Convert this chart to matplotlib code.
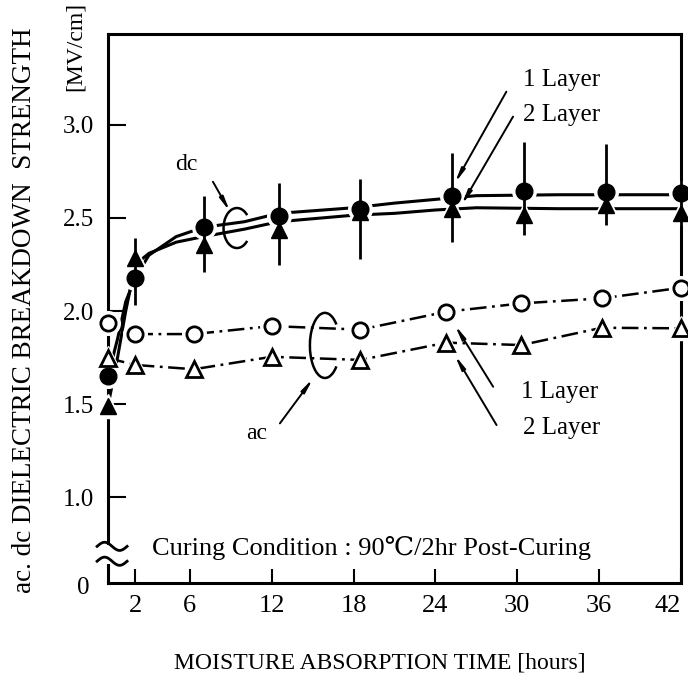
import numpy as np
import matplotlib
matplotlib.use("Agg")
import matplotlib.pyplot as plt
from matplotlib.patches import Arc, Rectangle

plt.rcParams['font.family'] = ['Liberation Serif', 'DejaVu Serif', 'Noto Sans CJK JP']
plt.rcParams['lines.scale_dashes'] = False

# ---------------- data ----------------
x_ticks = [2, 6, 12, 18, 24, 30, 36, 42]
x_tick_labels = ['2', '6', '12', '18', '24', '30', '36', '42']
y_ticks = [1.0, 1.5, 2.0, 2.5, 3.0]
y_tick_labels = ['1.0', '1.5', '2.0', '2.5', '3.0']

# dc measurements
dc_x = [0, 2, 7, 12.5, 18.5, 25.2, 30.5, 36.5, 42]
dc_1layer = [1.65, 2.18, 2.45, 2.51, 2.55, 2.62, 2.645, 2.64, 2.635]
dc_2layer = [1.49, 2.285, 2.355, 2.435, 2.53, 2.55, 2.515, 2.57, 2.525]
dc_err_x = [2, 7, 12.5, 18.5, 25.2, 30.5, 36.5, 42]
dc_err_lo = [2.03, 2.21, 2.25, 2.28, 2.37, 2.41, 2.46, 2.43]
dc_err_hi = [2.39, 2.62, 2.69, 2.71, 2.85, 2.91, 2.90, 2.92]

# dc fitted curves (as drawn)
dc_fit_x = [0, 0.7, 1.3, 2, 3, 5, 7, 10, 12.5, 18, 21, 24, 27, 33, 39, 42]
dc_fit_1layer = [1.65, 1.85, 2.05, 2.18, 2.30, 2.40, 2.45, 2.48, 2.525, 2.555, 2.58, 2.60, 2.62, 2.625, 2.625, 2.625]
dc_fit_2layer = [1.49, 1.75, 2.00, 2.25, 2.31, 2.37, 2.40, 2.44, 2.48, 2.515, 2.525, 2.543, 2.555, 2.55, 2.55, 2.55]

# ac measurements
ac_x = [0, 2, 6.3, 12, 18.5, 24.8, 30.3, 36.2, 42]
ac_1layer = [1.937, 1.876, 1.876, 1.919, 1.90, 1.996, 2.041, 2.068, 2.125]
ac_2layer = [1.747, 1.71, 1.687, 1.754, 1.737, 1.83, 1.817, 1.91, 1.907]

# ---------------- figure ----------------
fig = plt.figure(figsize=(6.88, 6.85), dpi=100)
ax = fig.add_axes([108/688, (685-583)/685, (681-108)/688, (583-34)/685])
ax.set_xlim(0, 42)
ax.set_ylim(0.538, 3.489)

for s in ax.spines.values():
    s.set_linewidth(2.2)

ax.set_xticks(x_ticks)
ax.set_xticklabels(x_tick_labels)
ax.set_yticks(y_ticks)
ax.set_yticklabels(y_tick_labels)
ax.tick_params(axis='x', direction='in', length=10, width=1.5, pad=9, labelsize=19)
ax.tick_params(axis='y', direction='in', length=13, width=1.5, pad=10, labelsize=18)
ax.get_xticklabels()[-1].set_horizontalalignment('right')

# dc fitted curves
ax.plot(dc_fit_x, dc_fit_1layer, color='black', lw=2.2, zorder=2, solid_capstyle='butt')
ax.plot(dc_fit_x, dc_fit_2layer, color='black', lw=2.2, zorder=2, solid_capstyle='butt')

# ac dash-dot lines
ac_style = (0, (12, 4, 2, 4))
ax.plot(ac_x, ac_1layer, color='black', lw=1.8, ls=ac_style, zorder=2)
ax.plot(ac_x, ac_2layer, color='black', lw=1.8, ls=ac_style, zorder=2)

# white halos breaking lines near markers
for xs, ys, m in [(dc_x, dc_1layer, 'o'), (dc_x, dc_2layer, '^'),
                  (ac_x, ac_1layer, 'o'), (ac_x, ac_2layer, '^')]:
    ax.plot(xs, ys, ls='none', marker=m, ms=17, color='white', zorder=3, clip_on=False)

# markers
ax.plot(dc_x, dc_1layer, ls='none', marker='o', ms=12, color='black', zorder=4, clip_on=False)
ax.plot(dc_x, dc_2layer, ls='none', marker='^', ms=12, color='black', zorder=4, clip_on=False)
ax.plot(ac_x, ac_1layer, ls='none', marker='o', ms=11, mfc='white', mec='black', mew=2,
        zorder=4, clip_on=False)
ax.plot(ac_x, ac_2layer, ls='none', marker='^', ms=11, mfc='white', mec='black', mew=2,
        zorder=4, clip_on=False)

# dc error bars
ax.vlines(dc_err_x, dc_err_lo, dc_err_hi, color='black', lw=2.0, zorder=5, clip_on=False)

# ---------------- annotations ----------------
fs = 18
ap = dict(arrowstyle='-|>,head_length=0.8,head_width=0.12', lw=1.4, color='black',
          shrinkA=0, shrinkB=0)


def c_bracket(cx, cy, w, h, t1=40, t2=320):
    # convert parametric angles to Arc's angle convention (data space)
    a1 = np.degrees(np.arctan2(h * np.sin(np.radians(t1)), w * np.cos(np.radians(t1))))
    a2 = np.degrees(np.arctan2(h * np.sin(np.radians(t2)), w * np.cos(np.radians(t2))))
    ax.add_patch(Arc((cx, cy), w, h, theta1=a1 % 360, theta2=a2 % 360, lw=1.8,
                     color='black', zorder=6))


ax.text(5.76, 2.785, 'dc', fontsize=17, ha='center', va='center')
ax.annotate('', xy=(8.94, 2.534), xytext=(7.69, 2.695), arrowprops=ap)
c_bracket(9.45, 2.446, 1.96, 0.215)

ax.text(10.87, 1.342, 'ac', fontsize=17, ha='center', va='center')
ax.annotate('', xy=(15.04, 1.638), xytext=(12.6, 1.396), arrowprops=ap)
c_bracket(15.9, 1.815, 2.2, 0.35)

ax.text(30.4, 3.242, '1 Layer', fontsize=fs, ha='left', va='center')
ax.text(30.4, 3.054, '2 Layer', fontsize=fs, ha='left', va='center')
ax.annotate('', xy=(25.42, 2.687), xytext=(29.2, 3.179), arrowprops=ap)
ax.annotate('', xy=(25.91, 2.57), xytext=(29.69, 3.045), arrowprops=ap)

ax.text(30.3, 1.566, '1 Layer', fontsize=fs, ha='left', va='center')
ax.text(30.4, 1.371, '2 Layer', fontsize=fs, ha='left', va='center')
ax.annotate('', xy=(25.42, 1.925), xytext=(28.23, 1.593), arrowprops=ap)
ax.annotate('', xy=(25.42, 1.763), xytext=(28.48, 1.387), arrowprops=ap)

ax.text(3.22, 0.726, 'Curing Condition : 90\u2103/2hr Post-Curing', fontsize=19,
        ha='left', va='center')

# axis break on the y axis
ax.add_patch(Rectangle((-0.4, 0.64), 0.8, 0.1, facecolor='white', edgecolor='none',
                       zorder=7, clip_on=False))
t = np.linspace(0, 1, 60)
for base in (0.735, 0.655):
    ax.plot(-0.8 + 2.2 * t, base + 0.022 * np.sin(2 * np.pi * t), color='black', lw=2.0,
            zorder=8, clip_on=False)
ax.text(-1.8, 0.51, '0', fontsize=18, ha='center', va='center')

# axis titles
fig.text(25/688, (685-310)/685, 'ac. dc DIELECTRIC BREAKDOWN  STRENGTH', rotation=90,
         fontsize=19.5, ha='center', va='center')
fig.text(75/688, (685-46)/685, '[MV/cm]', rotation=90, fontsize=17, ha='center', va='center')
fig.text(380/688, (685-663)/685, 'MOISTURE ABSORPTION TIME [hours]', fontsize=17,
         ha='center', va='center')

fig.savefig('out.png', dpi=100)
